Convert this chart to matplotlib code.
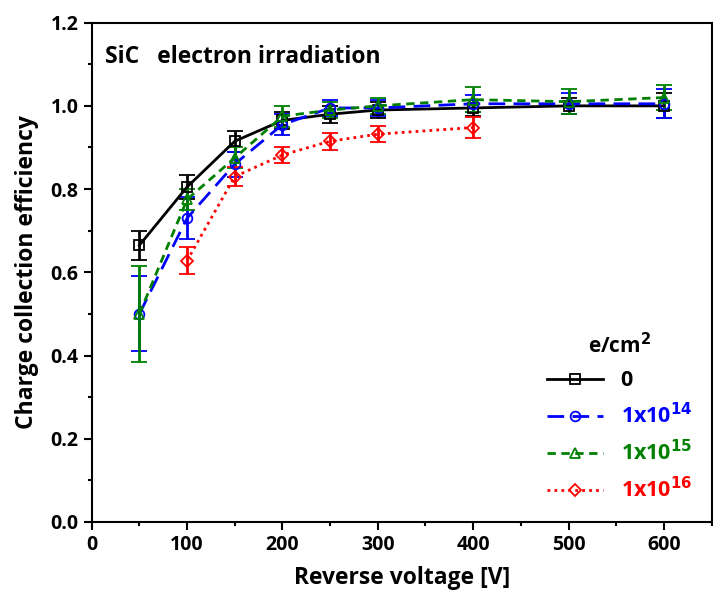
import numpy as np
from matplotlib import pyplot as plt
from matplotlib.lines import Line2D
from matplotlib.ticker import MultipleLocator

plt.rcParams['font.family'] = ['Open Sans', 'DejaVu Sans']
plt.rcParams['font.weight'] = 'bold'

# data
volt = [50, 100, 150, 200, 250, 300, 400, 500, 600]
cce_0 = [0.665, 0.805, 0.915, 0.965, 0.980, 0.990, 0.995, 1.000, 1.000]
err_0 = [0.035, 0.030, 0.025, 0.020, 0.020, 0.020, 0.020, 0.020, 0.030]
cce_14 = [0.500, 0.730, 0.860, 0.955, 0.995, 0.995, 1.005, 1.005, 1.005]
err_14 = [0.090, 0.050, 0.030, 0.025, 0.020, 0.020, 0.020, 0.025, 0.035]
cce_15 = [0.500, 0.775, 0.875, 0.975, 0.990, 1.000, 1.015, 1.010, 1.020]
err_15 = [0.115, 0.025, 0.025, 0.025, 0.020, 0.020, 0.030, 0.030, 0.030]
volt_16 = [100, 150, 200, 250, 300, 400]
cce_16 = [0.628, 0.830, 0.882, 0.915, 0.932, 0.948]
err_16 = [0.033, 0.022, 0.020, 0.020, 0.020, 0.025]

labels = ["0", "1x10$^{14}$", "1x10$^{15}$", "1x10$^{16}$"]
colors = ["black", "blue", "green", "red"]

fig = plt.figure(figsize=(7.13, 5.96), dpi=100)
ax = fig.add_axes([0.1286, 0.1242, 0.8694, 0.8378])

series = [
    (volt, cce_0, err_0, "s", "-"),
    (volt, cce_14, err_14, "o", (0, (6, 3))),
    (volt, cce_15, err_15, "^", (0, (3, 2))),
    (volt_16, cce_16, err_16, "D", (0, (1, 1.5))),
]
handles = []
for (x, y, e, m, ls), lab, c in zip(series, labels, colors):
    ms = 6 if m == "D" else 7
    ax.errorbar(x, y, yerr=e, color=c, marker=m, ms=ms, mfc="none", mec=c,
                mew=1.3, ls=ls, lw=2, elinewidth=2, capsize=5.5, capthick=2)
    handles.append(Line2D([], [], color=c, marker=m, ms=ms, mfc="none", mec=c,
                          mew=1.3, ls=ls, lw=2, label=lab))

ax.set_xlim(0, 650)
ax.set_ylim(0, 1.2)
ax.xaxis.set_major_locator(MultipleLocator(100))
ax.xaxis.set_minor_locator(MultipleLocator(50))
ax.yaxis.set_major_locator(MultipleLocator(0.2))
ax.yaxis.set_minor_locator(MultipleLocator(0.1))
ax.yaxis.set_major_formatter(plt.FormatStrFormatter("%.1f"))
ax.tick_params(which="major", direction="out", length=6, width=1.5, labelsize=14)
ax.tick_params(which="minor", direction="out", length=3, width=1.5)
for s in ax.spines.values():
    s.set_linewidth(1.5)

ax.set_xlabel("Reverse voltage [V]", fontsize=16.5, fontweight="bold", labelpad=8)
ax.set_ylabel("Charge collection efficiency", fontsize=16.5, fontweight="bold", labelpad=8)
ax.text(0.022, 0.955, "SiC   electron irradiation", transform=ax.transAxes,
        fontsize=16.5, fontweight="bold", va="top")

leg = ax.legend(handles=handles, loc="lower right", frameon=False, title="e/cm$^2$",
                title_fontsize=15, fontsize=15.5, handlelength=2.6,
                borderaxespad=0.5, labelspacing=0.55)
for t, c in zip(leg.get_texts(), colors):
    t.set_color(c)
    t.set_fontweight("bold")
leg.get_title().set_fontweight("bold")

plt.savefig("out.png", dpi=100)
